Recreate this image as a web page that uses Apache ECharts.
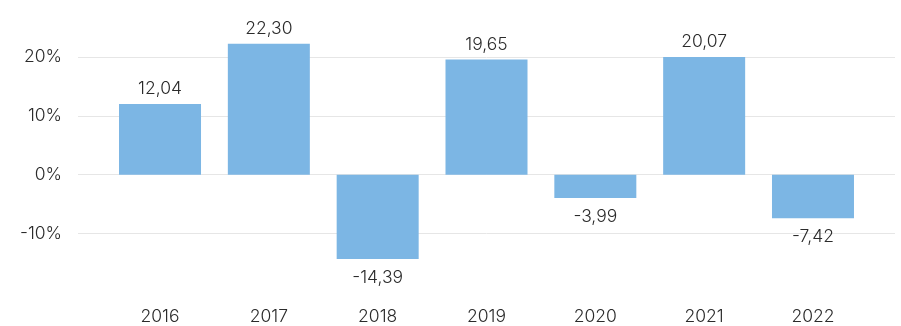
<!DOCTYPE html>
<html>
<head>
<meta charset="utf-8">
<script src="https://cdn.jsdelivr.net/npm/echarts@6/dist/echarts.min.js"></script>
<style>
  html, body { margin: 0; padding: 0; background: #fff; }
  #chart { width: 901px; height: 326px; }
</style>
</head>
<body>
<div id="chart"></div>
<script>
// Annual returns, in percent
const years = ['2016', '2017', '2018', '2019', '2020', '2021', '2022'];
const returns = [12.04, 22.30, -14.39, 19.65, -3.99, 20.07, -7.42];

const FONT = 'Inter';
const TEXT = '#2b2b2b';
const FS = 17.5;
const fmtNum = v => v.toFixed(2).replace('.', ',');

const chart = echarts.init(document.getElementById('chart'), null, { renderer: 'canvas' });

chart.setOption({
  animation: false,
  textStyle: { fontFamily: FONT },
  grid: [
    // wide grid: carries the percent labels and the horizontal guide lines
    { left: 78, right: 6, top: 57, height: 176.3, containLabel: false },
    // inner grid: carries the bars and the year labels
    { left: 105.6, right: 33.6, top: 28, height: 264, containLabel: false }
  ],
  xAxis: [
    { gridIndex: 0, type: 'category', data: years, show: false },
    {
      gridIndex: 1, type: 'category', data: years,
      axisLine: { show: false, onZero: false },
      axisTick: { show: false },
      axisLabel: { color: TEXT, fontSize: FS, fontWeight: 300, fontFamily: FONT, margin: 16 }
    }
  ],
  yAxis: [
    {
      gridIndex: 0, type: 'value', min: -10, max: 20, interval: 10,
      axisLine: { show: false }, axisTick: { show: false },
      axisLabel: { color: TEXT, fontSize: FS, fontWeight: 300, fontFamily: FONT, margin: 16, formatter: v => v + '%' },
      splitLine: { lineStyle: { color: '#e6e6e6', width: 1 } }
    },
    {
      gridIndex: 1, type: 'value', min: -20, max: 25, interval: 5,
      show: false, splitLine: { show: false }
    }
  ],
  series: [{
    type: 'bar',
    xAxisIndex: 1, yAxisIndex: 1,
    // negative values get their label under the bar
    data: returns.map(v => ({
      value: v,
      label: v < 0 ? { position: 'bottom', distance: 10 } : { position: 'top', distance: 6 }
    })),
    barWidth: 82,
    itemStyle: { color: '#7cb6e4' },
    label: {
      show: true,
      color: TEXT,
      fontSize: FS,
      fontWeight: 300,
      fontFamily: FONT,
      formatter: p => fmtNum(p.value)
    }
  }]
});
</script>
</body>
</html>
